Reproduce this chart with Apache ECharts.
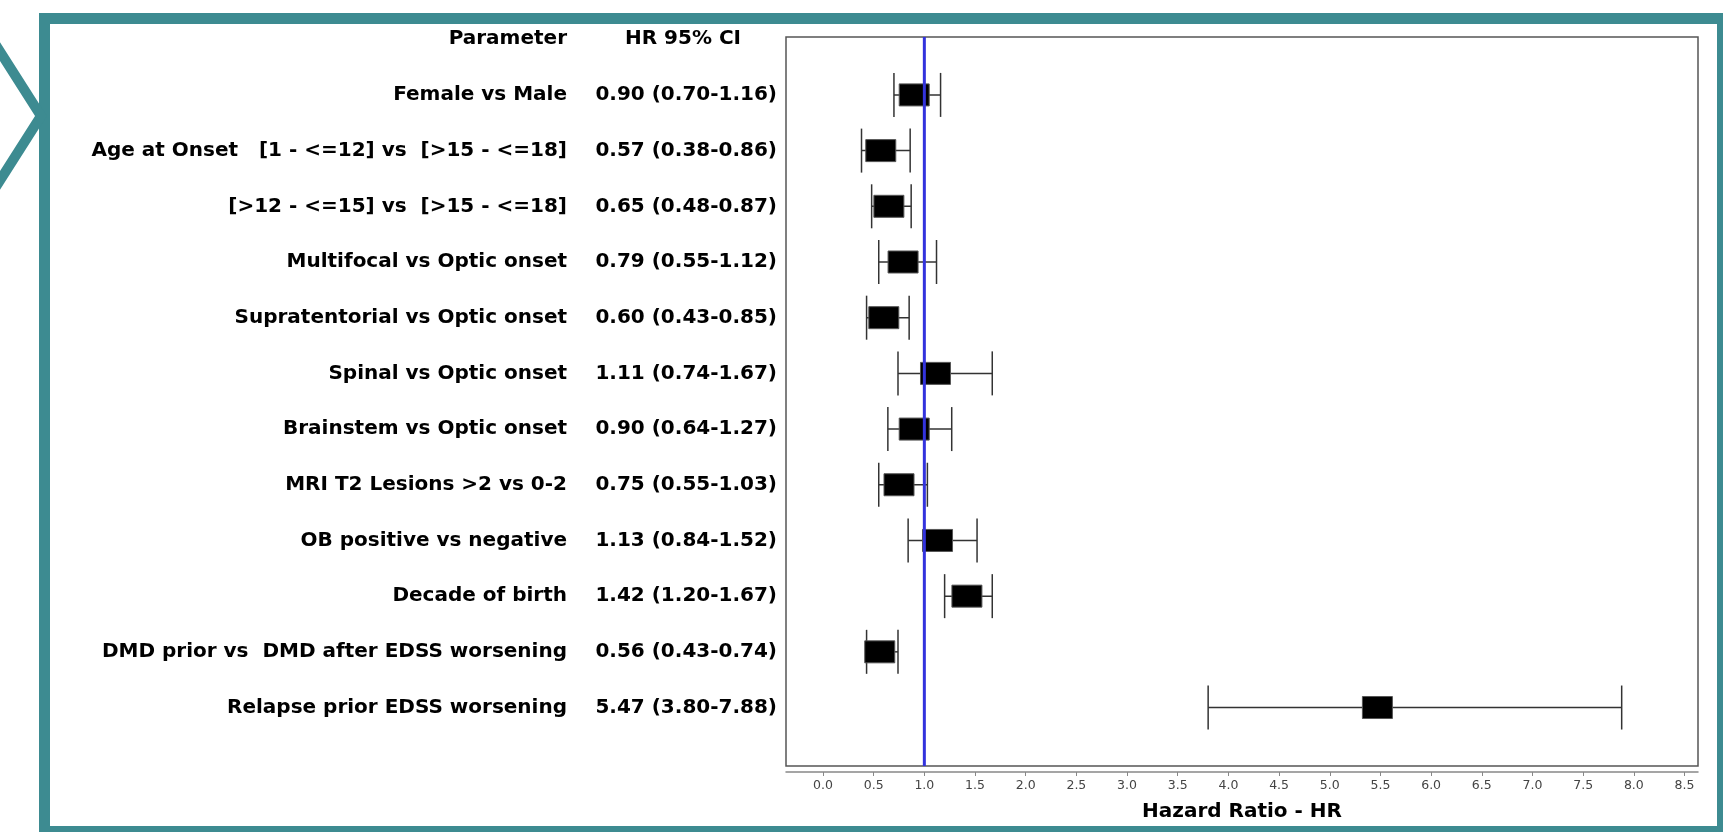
<!DOCTYPE html>
<html>
<head>
<meta charset="utf-8">
<title>Hazard Ratio forest plot</title>
<script src="https://cdn.jsdelivr.net/npm/echarts@6.0.0/dist/echarts.min.js"></script>
<style>
  html, body { margin: 0; padding: 0; background: #fff; }
  #chart { width: 1723px; height: 832px; }
</style>
</head>
<body>
<div id="chart"></div>
<script>
// rows, top to bottom
var parameters = [
  'Female vs Male',
  'Age at Onset   [1 - <=12] vs  [>15 - <=18]',
  '[>12 - <=15] vs  [>15 - <=18]',
  'Multifocal vs Optic onset',
  'Supratentorial vs Optic onset',
  'Spinal vs Optic onset',
  'Brainstem vs Optic onset',
  'MRI T2 Lesions >2 vs 0-2',
  'OB positive vs negative',
  'Decade of birth',
  'DMD prior vs  DMD after EDSS worsening',
  'Relapse prior EDSS worsening'
]
var hr = [0.90, 0.57, 0.65, 0.79, 0.60, 1.11, 0.90, 0.75, 1.13, 1.42, 0.56, 5.47]
var ciLow = [0.70, 0.38, 0.48, 0.55, 0.43, 0.74, 0.64, 0.55, 0.84, 1.20, 0.43, 3.80]
var ciHigh = [1.16, 0.86, 0.87, 1.12, 0.85, 1.67, 1.27, 1.03, 1.52, 1.67, 0.74, 7.88]
var xTicks = [0, 0.5, 1, 1.5, 2, 2.5, 3, 3.5, 4, 4.5, 5, 5.5, 6, 6.5, 7, 7.5, 8, 8.5]
var refValue = 1.0
var headers = ['Parameter', 'HR 95% CI']

var teal = '#3d8b91'
var yMin = -1.04
var yMax = 12.05

var rowValues = [-1]
var forestData = []
var hrText = []
for (var i = 0; i < parameters.length; i++) {
  rowValues.push(i)
  forestData.push([i, hr[i], ciLow[i], ciHigh[i]])
  hrText.push(hr[i].toFixed(2) + ' (' + ciLow[i].toFixed(2) + '-' + ciHigh[i].toFixed(2) + ')')
}

var labelFont = {
  fontFamily: 'DejaVu Sans',
  fontWeight: 'bold',
  fontSize: 20,
  color: '#000'
}

function rowAxis (margin, formatter, rich) {
  return {
    type: 'value',
    position: 'left',
    inverse: true,
    min: yMin,
    max: yMax,
    axisLine: {show: false},
    axisTick: {show: false},
    splitLine: {show: false},
    axisLabel: Object.assign({
      customValues: rowValues,
      margin: margin,
      formatter: formatter,
      rich: rich
    }, labelFont)
  }
}

var chart = echarts.init(document.getElementById('chart'))
chart.setOption({
  animation: false,
  backgroundColor: '#fff',
  graphic: [{
    type: 'rect',
    shape: {x: 44.5, y: 18.5, width: 1678, height: 813},
    style: {fill: 'none', stroke: teal, lineWidth: 11}
  }, {
    type: 'polyline',
    shape: {points: [[-8, 39], [41, 116], [-8, 193]]},
    style: {fill: 'none', stroke: teal, lineWidth: 10}
  }],
  grid: {
    left: 786,
    right: 25,
    top: 37,
    bottom: 66,
    show: true,
    borderColor: '#555',
    borderWidth: 1.5,
    backgroundColor: '#fff'
  },
  xAxis: {
    type: 'value',
    min: -0.365,
    max: 8.633,
    offset: 6,
    splitLine: {show: false},
    axisLine: {onZero: false, lineStyle: {color: '#888', width: 1.5}},
    axisTick: {customValues: xTicks, length: 4, lineStyle: {color: '#888'}},
    axisLabel: {
      customValues: xTicks,
      formatter: function (v) { return v.toFixed(1) },
      margin: 7,
      fontFamily: 'DejaVu Sans',
      fontSize: 12.5,
      color: '#444'
    },
    name: 'Hazard Ratio - HR',
    nameLocation: 'middle',
    nameGap: 30,
    nameTextStyle: {
      fontFamily: 'DejaVu Sans',
      fontWeight: 'bold',
      fontSize: 20,
      color: '#000'
    }
  },
  yAxis: [
    rowAxis(219, function (v) {
      var i = Math.round(v)
      return i < 0 ? headers[0] : (parameters[i] || '')
    }),
    rowAxis(9, function (v) {
      var i = Math.round(v)
      return i < 0 ? '{h|' + headers[1] + '}' : (hrText[i] || '')
    }, {
      h: Object.assign({padding: [0, 36, 0, 0]}, labelFont)
    })
  ],
  series: [{
    type: 'custom',
    yAxisIndex: 0,
    encode: {x: [1, 2, 3], y: 0},
    data: forestData,
    renderItem: function (params, api) {
      var row = api.value(0)
      var c = api.coord([api.value(1), row])
      var l = api.coord([api.value(2), row])
      var h = api.coord([api.value(3), row])
      var line = {stroke: '#333', lineWidth: 1.5}
      return {
        type: 'group',
        children: [{
          type: 'line',
          shape: {x1: l[0], y1: l[1], x2: h[0], y2: h[1]},
          style: line
        }, {
          type: 'line',
          shape: {x1: l[0], y1: l[1] - 22, x2: l[0], y2: l[1] + 22},
          style: line
        }, {
          type: 'line',
          shape: {x1: h[0], y1: h[1] - 22, x2: h[0], y2: h[1] + 22},
          style: line
        }, {
          type: 'rect',
          shape: {x: c[0] - 15, y: c[1] - 11, width: 30, height: 22},
          style: {fill: '#000', stroke: '#555', lineWidth: 1}
        }]
      }
    }
  }, {
    type: 'line',
    yAxisIndex: 0,
    z: 5,
    symbol: 'none',
    silent: true,
    lineStyle: {color: '#3333dd', width: 3},
    data: [[refValue, yMin], [refValue, yMax]]
  }]
})
</script>
</body>
</html>
